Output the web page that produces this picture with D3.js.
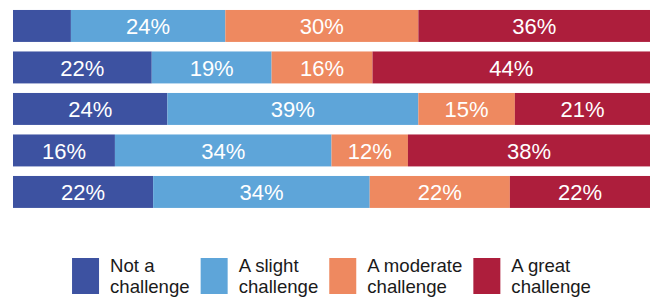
<!DOCTYPE html>
<html>
<head>
<meta charset="utf-8">
<script src="https://cdn.jsdelivr.net/npm/d3@7"></script>
<style>
  html, body { margin: 0; padding: 0; background: #fff; }
  svg { display: block; font-family: Arial, "Liberation Sans", sans-serif; }
</style>
</head>
<body>
<div id="chart"></div>
<script>
const rows = ['Item 1', 'Item 2', 'Item 3', 'Item 4', 'Item 5'];
const levels = ['Not a challenge', 'A slight challenge', 'A moderate challenge', 'A great challenge'];
const legendLines = [['Not a', 'challenge'], ['A slight', 'challenge'], ['A moderate', 'challenge'], ['A great', 'challenge']];
const notChallenge = [9, 22, 24, 16, 22];
const slight = [24, 19, 39, 34, 34];
const moderate = [30, 16, 15, 12, 22];
const great = [36, 44, 21, 38, 22];
const colors = ['#3d52a1', '#5ea5d9', '#ee8960', '#ad1e3c'];

const width = 654, height = 297;
const series = [notChallenge, slight, moderate, great];
const table = rows.map((r, i) => {
  const o = { row: r };
  levels.forEach((l, j) => { o[l] = series[j][i]; });
  return o;
});

const stacked = d3.stack().keys(levels).offset(d3.stackOffsetExpand)(table);

const x = d3.scaleLinear().domain([0, 1]).range([13, 650]);
const y = d3.scaleBand().domain(rows).range([5.2, 212.7]).paddingInner(0.23).paddingOuter(0.115);
const color = d3.scaleOrdinal().domain(levels).range(colors);

const svg = d3.select('#chart').append('svg')
  .attr('width', width)
  .attr('height', height);

const layer = svg.append('g').selectAll('g')
  .data(stacked)
  .join('g')
  .attr('fill', d => color(d.key));

layer.selectAll('rect')
  .data(d => d.map(p => ({ p, key: d.key })))
  .join('rect')
  .attr('x', d => x(d.p[0]))
  .attr('y', d => y(d.p.data.row))
  .attr('width', d => x(d.p[1]) - x(d.p[0]))
  .attr('height', y.bandwidth());

// value labels (small first segment left unlabelled, as in the source)
layer.selectAll('text')
  .data(d => d.map(p => ({ p, key: d.key })).filter(d => d.p.data[d.key] >= 10))
  .join('text')
  .attr('x', d => (x(d.p[0]) + x(d.p[1])) / 2)
  .attr('y', d => y(d.p.data.row) + y.bandwidth() / 2)
  .attr('dy', '0.38em')
  .attr('text-anchor', 'middle')
  .attr('fill', '#fff')
  .attr('font-size', '22px')
  .text(d => d.p.data[d.key] + '%');

// Legend
const legend = svg.append('g');
const items = legend.selectAll('g')
  .data(levels)
  .join('g');

items.append('rect')
  .attr('width', 27)
  .attr('height', 36)
  .attr('fill', d => color(d));

items.append('text')
  .attr('font-size', '18.6px')
  .attr('fill', '#1a1a1a')
  .selectAll('tspan')
  .data((d, i) => legendLines[i])
  .join('tspan')
  .attr('x', 38)
  .attr('y', (d, i) => 14 + i * 21)
  .text(d => d);

let offset = 0;
items.each(function () {
  const tw = d3.max(d3.select(this).selectAll('tspan').nodes(), n => n.getComputedTextLength());
  d3.select(this).attr('transform', `translate(${offset},0)`);
  offset += 38 + tw + 11;
});
const totalW = offset - 11;
const cx = (x.range()[0] + x.range()[1]) / 2;
legend.attr('transform', `translate(${cx - totalW / 2},258)`);
</script>
</body>
</html>
